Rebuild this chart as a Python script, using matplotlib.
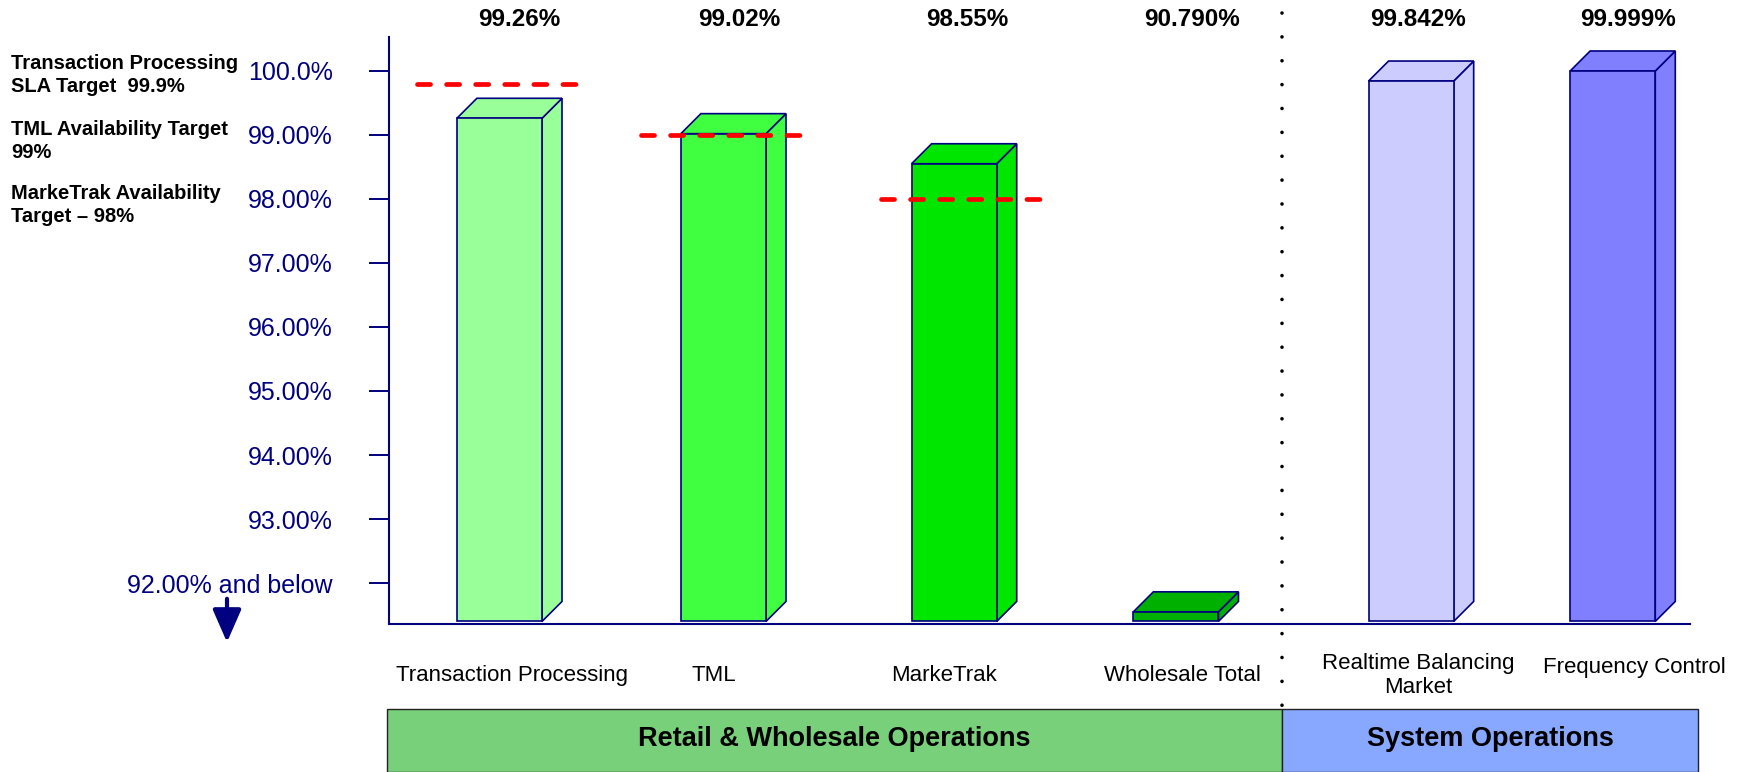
import numpy as np
import matplotlib
matplotlib.use("Agg")
import matplotlib.pyplot as plt
from matplotlib.patches import Rectangle, Polygon
from matplotlib.lines import Line2D

plt.rcParams['font.family'] = ['Liberation Sans', 'DejaVu Sans']

# data
categories = ["Transaction Processing", "TML", "MarkeTrak", "Wholesale Total",
              "Realtime Balancing\nMarket", "Frequency Control"]
values = [99.26, 99.02, 98.55, 90.79, 99.842, 99.999]
decimals = [2, 2, 2, 3, 3, 3]
bar_colors = ["#99FF99", "#40FF40", "#00E600", "#00B000", "#CCCCFF", "#8080FF"]
targets = [99.8, 99.0, 98.0]          # drawn target lines for the first three bars
target_notes = ["Transaction Processing\nSLA Target  99.9%",
                "TML Availability Target\n99%",
                "MarkeTrak Availability\nTarget \u2013 98%"]
yticks = [92, 93, 94, 95, 96, 97, 98, 99, 100]
ytick_labels = ["92.00% and below", "93.00%", "94.00%", "95.00%", "96.00%",
                "97.00%", "98.00%", "99.00%", "100.0%"]
groups = ["Retail & Wholesale Operations", "System Operations"]

# layout
W, H = 1744, 772
navy = "#000080"
bar_x = [0, 1.0, 2.03, 3.02, 4.07, 4.97]
label_dx = [0.057, -0.044, -0.047, 0.03, 0.033, 0.097]
value_dx = [0.09, 0.07, 0.06, 0.07, 0.03, 0.07]
target_dx = [0.0, 0.0, 0.045]
bar_w = 0.38
base = 91.40
floor_val = 92.0
stub = 0.15
dx, dy = 20 / 224, 20 / 64

fig = plt.figure(figsize=(W / 100, H / 100), dpi=100)
ax = fig.add_axes([389 / W, 1 - 624 / H, (1690 - 389) / W, (624 - 37) / H])
ax.set_xlim(-0.493, 5.315)
ax.set_ylim(91.36, 100.53)

for x, v, c in zip(bar_x, values, bar_colors):
    top = v if v >= floor_val else base + stub
    x0, x1 = x - bar_w / 2, x + bar_w / 2
    ax.add_patch(Polygon([(x1, base), (x1 + dx, base + dy), (x1 + dx, top + dy), (x1, top)],
                         closed=True, facecolor=c, edgecolor=navy, lw=1.2, zorder=2))
    ax.add_patch(Polygon([(x0, top), (x0 + dx, top + dy), (x1 + dx, top + dy), (x1, top)],
                         closed=True, facecolor=c, edgecolor=navy, lw=1.2, zorder=2))
    ax.add_patch(Rectangle((x0, base), bar_w, top - base, facecolor=c,
                           edgecolor=navy, lw=1.2, zorder=3))

# value labels above the plot
for x, off, v, d in zip(bar_x, value_dx, values, decimals):
    ax.text(x + off, 100.8, f"{v:.{d}f}%", ha="center", va="center",
            fontsize=17.5, fontweight="bold", color="black", clip_on=False)

# target lines
for x, off, t in zip(bar_x, target_dx, targets):
    ax.plot([x + off - 0.37, x + off + 0.37], [t, t], color="#FF0000", lw=3.4,
            linestyle=(0, (2.76, 3.4)), dash_capstyle="round", zorder=4)

ax.set_yticks(yticks)
ax.set_yticklabels(ytick_labels)
ax.tick_params(axis="y", length=14.4, width=1.4, color=navy, labelcolor=navy,
               labelsize=18, pad=26, direction="out")
ax.set_xticks([])
for s in ["top", "right"]:
    ax.spines[s].set_visible(False)
for s in ["left", "bottom"]:
    ax.spines[s].set_color(navy)
    ax.spines[s].set_linewidth(1.5)

# category labels under the axis
for x, off, name in zip(bar_x, label_dx, categories):
    yl = 90.68 if name == "Frequency Control" else 90.55
    ax.text(x + off, yl, name, ha="center", va="center", fontsize=16,
            color="black", clip_on=False, linespacing=1.2)

# target notes on the left
for note, yc in zip(target_notes, [75, 141, 205]):
    fig.text(11 / W, 1 - yc / H, note, ha="left", va="center", fontsize=14.5,
             fontweight="bold", color="black", linespacing=1.3)

# arrow below "92.00% and below"
ax.annotate("", xy=(227, H - 645), xytext=(227, H - 596),
            xycoords="figure pixels", textcoords="figure pixels",
            arrowprops=dict(arrowstyle="-|>,head_width=0.35,head_length=0.8",
                            color=navy, lw=3, mutation_scale=25))

# group boxes
fig.patches.append(Rectangle((387 / W, 0), (1282 - 387) / W, (H - 709) / H,
                             transform=fig.transFigure, facecolor="#78D07A",
                             edgecolor="#222222", lw=1))
fig.patches.append(Rectangle((1282 / W, 0), (1698 - 1282) / W, (H - 709) / H,
                             transform=fig.transFigure, facecolor="#88A8FF",
                             edgecolor="#222222", lw=1))
fig.text((387 + 1282) / 2 / W, 1 - 739 / H, groups[0], ha="center", va="center",
         fontsize=19.5, fontweight="bold")
fig.text((1282 + 1698) / 2 / W, 1 - 739 / H, groups[1], ha="center", va="center",
         fontsize=19.5, fontweight="bold")

# dotted divider
fig.lines.append(Line2D([1282 / W, 1282 / W], [1 - 13 / H, 1 - 709 / H],
                        transform=fig.transFigure, color="black", lw=2.6,
                        linestyle=(0, (0.01, 6.6)), dash_capstyle="round"))

fig.savefig("out.png", dpi=100)
